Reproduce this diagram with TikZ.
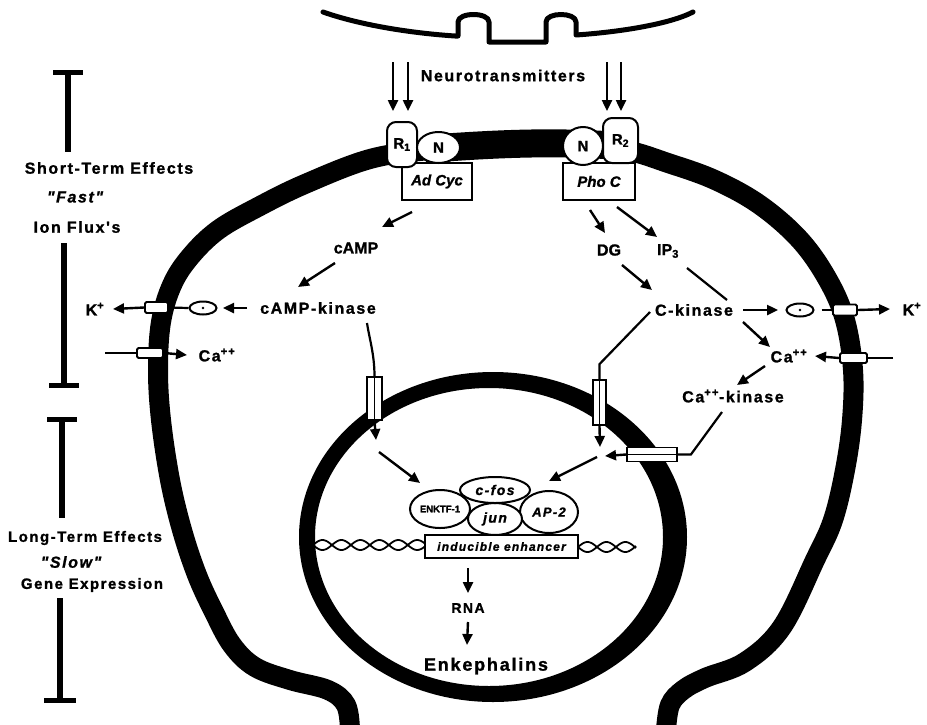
\documentclass[tikz,border=0pt]{standalone}
\usepackage{fontspec}
\setmainfont{Liberation Sans}
\newfontfamily\hv[LetterSpace=10, BoldFeatures={FakeBold=1.2}, BoldItalicFeatures={FakeBold=1.2}]{Liberation Sans}
\newfontfamily\hvtight[BoldFeatures={FakeBold=1.2}, BoldItalicFeatures={FakeBold=1.2}]{Liberation Sans}
\usetikzlibrary{arrows.meta,shapes.geometric,calc}

\begin{document}
\begin{tikzpicture}[x=1pt,y=-1pt,
  lbl/.style={font={\hv\bfseries\fontsize{16}{18}\selectfont}, inner sep=1pt},
  lblit/.style={font={\hv\bfseries\itshape\fontsize{16}{18}\selectfont}, inner sep=1pt},
  lblt/.style={font={\hvtight\bfseries\fontsize{16}{18}\selectfont}, inner sep=1pt},
  arr/.style={line width=2.4pt, -{Triangle[length=11pt,width=10pt]}},
  conn/.style={line width=2.2pt},
  bar/.style={line width=6pt},
  barcap/.style={line width=5pt},
  memb/.style={line width=20pt},
  slab/.style={draw, fill=white, line width=2pt, inner sep=0pt},
  rcpt/.style={slab, rounded corners=9pt, font={\hvtight\bfseries\fontsize{15}{17}\selectfont}},
  gprot/.style={slab, ellipse, font={\hvtight\bfseries\fontsize{15}{17}\selectfont}},
  enzyme/.style={slab, font={\hvtight\bfseries\itshape\fontsize{15}{17}\selectfont}},
  chan/.style={draw, fill=white, line width=1.8pt, rounded corners=1.5pt, inner sep=0pt},
  pore/.style={draw, fill=white, line width=1.8pt, inner sep=0pt},
  vline/.style={path picture={\draw[line width=1.2pt] (path picture bounding box.north) -- (path picture bounding box.south);}},
  hline/.style={path picture={\draw[line width=1.2pt] (path picture bounding box.west) -- (path picture bounding box.east);}},
  tf/.style={draw, fill=white, ellipse, line width=2pt, inner sep=0pt},
  dotc/.style={draw, ellipse, line width=2pt, minimum width=27pt, minimum height=13pt, inner sep=0pt,
    path picture={\fill (path picture bounding box.center) circle (1.3pt);}},
]
\useasboundingbox (0,0) rectangle (927,724);

% presynaptic terminal with two release sites
\draw[line width=5pt, line join=round, line cap=round]
  (323,12) .. controls (360,25) and (410,33) .. (455,36) -- (458,36) -- (458,22)
  .. controls (458,12) and (489,12) .. (489,22) -- (489,42) -- (546,42) -- (546,22)
  .. controls (546,12) and (576,12) .. (576,22) -- (576,35)
  .. controls (620,32) and (670,24) .. (693,12);

% postsynaptic cell membrane
\draw[memb] plot[smooth, tension=0.6] coordinates {(350,730) (346,705) (328,690) (290,680) (255,667) (232,645) (214,612) (197,575) (182,530) (170,480) (161,420) (158,370) (161,322) (172,285) (190,257) (218,230) (258,207) (305,184) (370,159) (430,150) (500,146) (565,143) (625,150) (668,163) (715,180) (760,205) (800,240) (828,280) (845,320) (853,370) (852,420) (845,470) (833,520) (815,560) (782,627) (745,662) (705,678) (683,690) (670,705) (666,730)};
\draw[line width=28pt] (425,149) .. controls (480,145) and (540,141) .. (605,145);

% nuclear envelope
\fill[even odd rule] (493,537) ellipse [x radius=194pt, y radius=165pt]
                     (489,537) ellipse [x radius=174pt, y radius=149pt];

% DNA double strand
\draw[line width=1.8pt] plot[domain=313:425, samples=80] (\x, {545+5*sin((\x-313)*9.5)});
\draw[line width=1.8pt] plot[domain=313:425, samples=80] (\x, {545-5*sin((\x-313)*9.5)});
\draw[line width=1.8pt] plot[domain=578:636, samples=50] (\x, {547+5*sin((\x-578)*9.5)});
\draw[line width=1.8pt] plot[domain=578:636, samples=50] (\x, {547-5*sin((\x-578)*9.5)});

% time scale on the left
\node[lbl] (stA) at (109,168) {Short-Term Effects};
\node[lblit] (stB) at (75,197) {"Fast"};
\node[lbl] (stC) at (77,227) {Ion Flux's};
\node[lbl, font={\hv\bfseries\fontsize{15}{17}\selectfont}] (ltA) at (85,538) {Long-Term Effects};
\node[lblit] (ltB) at (71,562) {"Slow"};
\node[lbl, font={\hv\bfseries\fontsize{15}{17}\selectfont}] (ltC) at (92,585) {Gene Expression};
\coordinate (stTop) at (68,72);
\coordinate (stBot) at (64,385);
\coordinate (ltTop) at (62,419);
\coordinate (ltBot) at (60,700);
\draw[bar, shorten >=9pt] (stTop) -- (stTop |- stA.north);
\draw[bar, shorten <=9pt] (stBot |- stC.south) -- (stBot);
\draw[bar, shorten >=12pt] (ltTop) -- (ltTop |- ltA.north);
\draw[bar, shorten <=5pt] (ltBot |- ltC.south) -- (ltBot);
\draw[barcap] ([xshift=-15pt]stTop) -- ([xshift=15pt]stTop);
\draw[barcap] ([xshift=-15pt]stBot) -- ([xshift=15pt]stBot);
\draw[barcap] ([xshift=-15pt]ltTop) -- ([xshift=15pt]ltTop);
\draw[barcap] ([xshift=-16pt]ltBot) -- ([xshift=16pt]ltBot);

% receptors, G proteins and effector enzymes
\node[enzyme, minimum width=70pt, minimum height=37pt] (adcyc) at (437,181.5) {Ad Cyc};
\node[rcpt, minimum width=30pt, minimum height=45pt] (r1) at (402,144.5) {R\textsubscript{1}};
\node[gprot, minimum width=43pt, minimum height=31pt] (n1) at (438.5,147.5) {N};
\node[enzyme, minimum width=72pt, minimum height=37pt] (phoc) at (599,181.5) {Pho C};
\node[gprot, minimum width=40pt, minimum height=38pt] (n2) at (583,146) {N};
\node[rcpt, minimum width=35pt, minimum height=45pt] (r2) at (620.5,140.5) {R\textsubscript{2}};

\node[lbl] (nt) at (503,75.5) {Neurotransmitters};
\coordinate (ntL) at (400.5,62);
\coordinate (ntR) at (614,62);

% second messengers and kinases
\node[lblt] (camp) at (356,248) {cAMP};
\node[lbl] (campk) at (318,308) {cAMP-kinase};
\node[lblt] (dg) at (609,250) {DG};
\node[lblt] (ip3) at (668,251) {IP\textsubscript{3}};
\node[lbl] (ckin) at (694,310) {C-kinase};
\node[lbl] (ca2) at (789,356) {Ca\textsuperscript{++}};
\node[lbl] (ca2k) at (733,396) {Ca\textsuperscript{++}-kinase};
\node[dotc] (dotR) at (800,310) {};
\node[dotc] (dotL) at (203,308) {};

% membrane ion channels
\node[chan, minimum width=24pt, minimum height=11pt] (chanKR) at (845,310) {};
\node[chan, minimum width=27pt, minimum height=10pt] (chanCaR) at (853.5,358) {};
\node[chan, minimum width=23pt, minimum height=11pt] (chanKL) at (156.5,307.5) {};
\node[chan, minimum width=26pt, minimum height=10pt] (chanCaL) at (150,353) {};
\node[lbl] (kR) at (912,309) {K\textsuperscript{+}};
\node[lbl] (kL) at (95,309) {K\textsuperscript{+}};
\node[lbl] (caL) at (217,355) {Ca\textsuperscript{++}};
\coordinate (caLout) at (105,353);
\coordinate (caRout) at (893,358);

% nuclear pores
\node[pore, vline, minimum width=15pt, minimum height=43pt] (poreV1) at (374.5,398.5) {};
\node[pore, vline, minimum width=13pt, minimum height=45pt] (poreV2) at (599.5,402.5) {};
\node[pore, hline, minimum width=50pt, minimum height=14pt] (poreH) at (652,454.5) {};
\coordinate (meetL) at (376,447);
\coordinate (meetR) at (600,456);

% transcription factor complex on the enhancer
\node[tf, minimum width=60pt, minimum height=38pt, font={\hvtight\bfseries\fontsize{9.5}{11}\selectfont}] (enktf) at (440,509) {ENKTF-1};
\node[tf, minimum width=58pt, minimum height=42pt, font={\hv\bfseries\itshape\fontsize{13}{15}\selectfont}] (ap2) at (549,512) {AP-2};
\node[tf, minimum width=54pt, minimum height=32pt, font={\hv\bfseries\itshape\fontsize{14}{16}\selectfont}] (jun) at (495,519) {jun};
\node[tf, minimum width=70pt, minimum height=26pt, font={\hv\bfseries\itshape\fontsize{14}{16}\selectfont}] (cfos) at (495,490) {c-fos};
\node[slab, minimum width=153pt, minimum height=23pt, font={\hv\bfseries\itshape\fontsize{12}{14}\selectfont}] (enh) at (501.5,546.5) {inducible enhancer};
\node[lbl, font={\hv\bfseries\fontsize{14}{16}\selectfont}] (rna) at (468,608) {RNA};
\node[lbl, font={\hv\bfseries\fontsize{18}{20}\selectfont}] (enk) at (486,666) {Enkephalins};

% neurotransmitter arrows
\draw[arr] ([xshift=-7.5pt]ntL) -- ([xshift=-9pt,yshift=10pt]r1.north);
\draw[arr] ([xshift=7.5pt]ntL) -- ([xshift=6pt,yshift=10pt]r1.north);
\draw[arr] ([xshift=-7pt]ntR) -- ([xshift=-13.5pt,yshift=6pt]r2.north);
\draw[arr] ([xshift=7pt]ntR) -- ([xshift=0.5pt,yshift=6pt]r2.north);

% cAMP pathway
\draw[arr] ([xshift=-25pt,yshift=-30.5pt]adcyc.center) -- ([xshift=26pt,yshift=21pt]camp.center);
\draw[arr] ([xshift=-21pt,yshift=-15pt]camp.center) -- ([xshift=-20pt,yshift=21pt]campk.center);
\draw[arr] ([xshift=-71pt]campk.center) -- ([xshift=20pt]dotL.center);
\draw[conn] (dotL.west) -- (chanKL.east);
\draw[arr] (chanKL.west) -- ([xshift=18pt]kL.center);
\draw[conn] (caLout) -- (chanCaL.west);
\draw[arr] (chanCaL.east) -- ([xshift=-30pt]caL.center);
\draw[conn] ([xshift=49pt,yshift=-15pt]campk.center) .. controls +(2,14) and +(0,-22) .. (poreV1.north);
\draw[arr] (poreV1.south) -- ([yshift=7pt]meetL);
\draw[arr] ([xshift=3pt,yshift=-5pt]meetL) -- ([xshift=-20pt,yshift=26pt]enktf.center);

% phospholipase C pathway
\draw[arr] ([xshift=-9pt,yshift=-28.5pt]phoc.center) -- ([xshift=-4pt,yshift=17pt]dg.center);
\draw[arr] ([xshift=18pt,yshift=-25.5pt]phoc.center) -- ([xshift=-11pt,yshift=14pt]ip3.center);
\draw[arr] ([xshift=13pt,yshift=-15pt]dg.center) -- ([xshift=-42pt,yshift=20pt]ckin.center);
\draw[conn] ([xshift=19pt,yshift=-17pt]ip3.center) -- ([xshift=33pt,yshift=10pt]ckin.center);
\draw[arr] ([xshift=49pt,yshift=-12pt]ckin.center) -- ([xshift=-19pt,yshift=9pt]ca2.center);
\draw[arr] ([xshift=49pt]ckin.center) -- ([xshift=-22pt]dotR.center);
\draw[conn] ([xshift=7pt]dotR.east) -- (chanKR.west);
\draw[arr] (chanKR.east) -- ([xshift=-22pt]kR.center);
\draw[conn] (caRout) -- (chanCaR.east);
\draw[arr] (chanCaR.west) -- ([xshift=26pt]ca2.center);
\draw[arr] ([xshift=-24pt,yshift=-10pt]ca2.center) -- ([xshift=4pt,yshift=11pt]ca2k.center);
\draw[conn] ([xshift=-11pt,yshift=-16pt]ca2k.center) -- ([xshift=13pt]poreH.east) -- (poreH.east);
\draw[arr] (poreH.west) -- ([xshift=5pt]meetR);
\draw[conn] ([xshift=-44pt,yshift=-2pt]ckin.center) -- ([yshift=15pt]poreV2.north) -- (poreV2.north);
\draw[arr] (poreV2.south) -- ([yshift=9pt]meetR);
\draw[arr] ([xshift=-3pt,yshift=-1pt]meetR) -- ([yshift=9pt]ap2.north);

% gene expression
\draw[arr] ([xshift=-33.5pt,yshift=-9pt]enh.south) -- ([yshift=15pt]rna.center);
\draw[arr] ([yshift=-14pt]rna.center) -- ([xshift=-19pt,yshift=21pt]enk.center);
\end{tikzpicture}
\end{document}
